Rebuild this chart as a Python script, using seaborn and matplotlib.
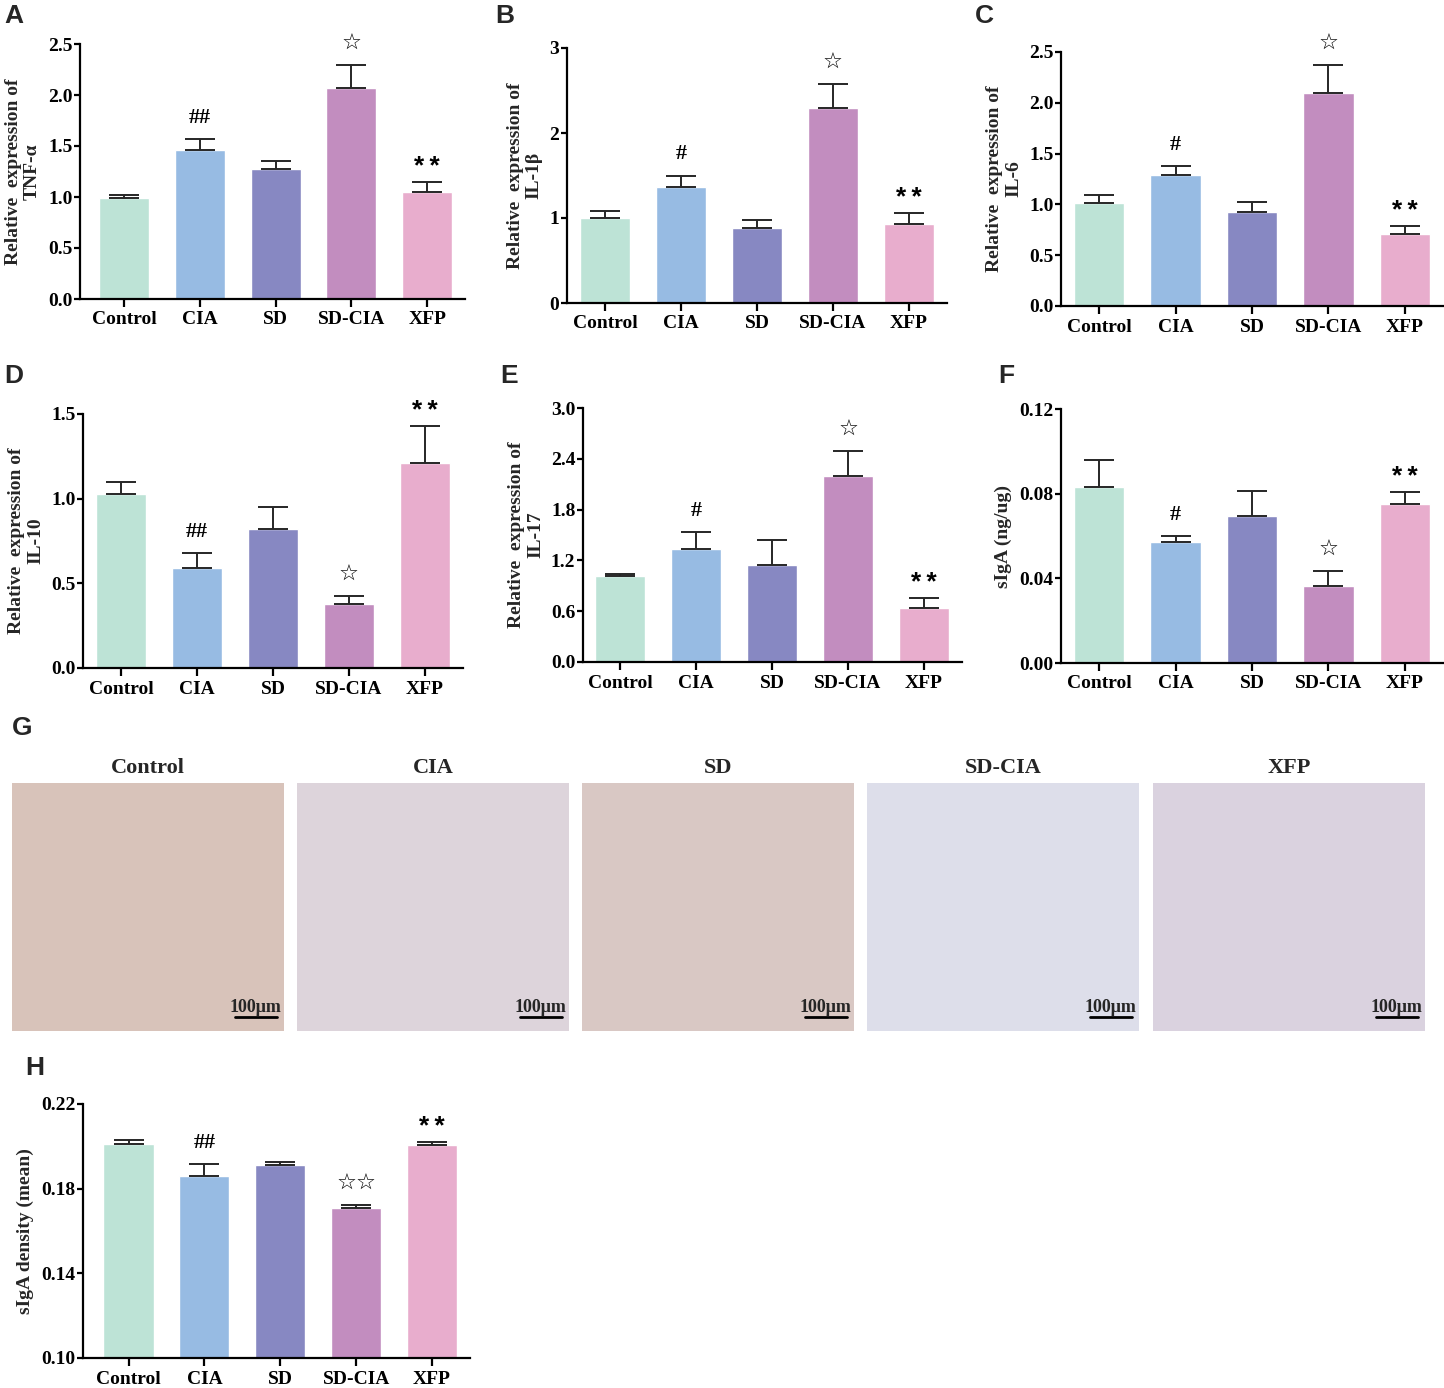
import matplotlib
matplotlib.use("Agg")
import matplotlib.pyplot as plt
import seaborn as sns
import pandas as pd
import numpy as np

# groups and colours shared by every bar panel
groups = ["Control", "CIA", "SD", "SD-CIA", "XFP"]
bar_colors = ["#BDE3D6", "#97BBE3", "#8788C2", "#C28DBF", "#E8ADCD"]

# A  TNF-a
tnf_mean = [0.99, 1.46, 1.27, 2.07, 1.05]
tnf_err = [0.03, 0.11, 0.08, 0.22, 0.10]
tnf_marks = ["", "##", "", "☆", "**"]

# B  IL-1b
il1b_mean = [1.00, 1.36, 0.88, 2.29, 0.93]
il1b_err = [0.08, 0.14, 0.10, 0.29, 0.13]
il1b_marks = ["", "#", "", "☆", "**"]

# C  IL-6
il6_mean = [1.01, 1.29, 0.93, 2.10, 0.71]
il6_err = [0.08, 0.09, 0.09, 0.27, 0.08]
il6_marks = ["", "#", "", "☆", "**"]

# D  IL-10
il10_mean = [1.03, 0.59, 0.82, 0.38, 1.21]
il10_err = [0.07, 0.09, 0.13, 0.045, 0.22]
il10_marks = ["", "##", "", "☆", "**"]

# E  IL-17
il17_mean = [1.01, 1.34, 1.14, 2.20, 0.64]
il17_err = [0.03, 0.20, 0.30, 0.29, 0.12]
il17_marks = ["", "#", "", "☆", "**"]

# F  sIgA ELISA
siga_mean = [0.0831, 0.0572, 0.0695, 0.0364, 0.0752]
siga_err = [0.0129, 0.0026, 0.0117, 0.0070, 0.0058]
siga_marks = ["", "#", "", "☆", "**"]

# H  sIgA IHC density
dens_mean = [0.2011, 0.1860, 0.1910, 0.1710, 0.2006]
dens_err = [0.0020, 0.0056, 0.0017, 0.0013, 0.0016]
dens_marks = ["", "##", "", "☆☆", "**"]

# G  micrograph tiles (flat tones standing in for the stained sections)
tile_names = ["Control", "CIA", "SD", "SD-CIA", "XFP"]
tile_colors = ["#D8C3BA", "#DDD4DB", "#D9C8C4", "#DDDEEA", "#DAD2DF"]

sns.set_theme(style="ticks")
plt.rcParams["font.family"] = ["Liberation Serif", "DejaVu Sans"]
plt.rcParams["font.weight"] = "bold"
plt.rcParams["axes.labelweight"] = "bold"

W, H = 1444, 1388
fig = plt.figure(figsize=(W / 100, H / 100), dpi=100)


def px_axes(l, t, r, b):
    return fig.add_axes([l / W, 1 - b / H, (r - l) / W, (b - t) / H])


def bar_panel(rect, xpad, mean, err, marks, ylim, yticks, fmt, ylabel):
    ax = px_axes(*rect)
    df = pd.DataFrame({"group": groups, "value": mean})
    sns.barplot(data=df, x="group", y="value", hue="group", palette=bar_colors,
                legend=False, width=0.66, saturation=1, ax=ax)
    xs = np.arange(len(groups))
    ax.errorbar(xs, mean, yerr=[np.zeros(len(err)), err], fmt="none",
                ecolor="#262626", elinewidth=1.4, capsize=11, capthick=1.4, zorder=3)
    for x, m, e, mk in zip(xs, mean, err, marks):
        if not mk:
            continue
        if mk.startswith("*"):
            ax.annotate("*\u2009*", (x, m + e), xytext=(0, 2), textcoords="offset points",
                        ha="center", va="bottom", fontsize=19, fontweight="bold",
                        family=["Liberation Sans", "DejaVu Sans"], color="black")
        elif mk.startswith("☆"):
            ax.annotate(mk, (x, m + e), xytext=(0, 8), textcoords="offset points",
                        ha="center", va="bottom", fontsize=16, fontweight="bold",
                        family=["DejaVu Sans"], color="black")
        else:
            ax.annotate(mk, (x, m + e), xytext=(0, 8), textcoords="offset points",
                        ha="center", va="bottom", fontsize=16, fontweight="bold",
                        color="black")
    ax.set_xlim(-xpad, len(groups) - 0.5)
    ax.set_ylim(*ylim)
    ax.set_yticks(yticks)
    ax.set_yticklabels([fmt.format(v) for v in yticks])
    ax.set_xlabel("")
    ax.set_ylabel(ylabel, fontsize=14, fontweight="bold", labelpad=5, linespacing=1.15)
    sns.despine(ax=ax)
    for s in ["left", "bottom"]:
        ax.spines[s].set_linewidth(1.6)
        ax.spines[s].set_color("black")
    ax.tick_params(axis="x", length=6, width=1.6, pad=3, labelsize=14, colors="black")
    ax.tick_params(axis="y", length=4.5, width=1.6, pad=1, labelsize=14, colors="black")
    for lab in ax.get_xticklabels() + ax.get_yticklabels():
        lab.set_fontweight("bold")
    return ax


bar_panel((80, 44, 465, 299), 0.58, tnf_mean, tnf_err, tnf_marks, (0, 2.5),
          [0, 0.5, 1.0, 1.5, 2.0, 2.5], "{:.1f}", "Relative  expression of\nTNF-α")
bar_panel((567, 48, 947, 303), 0.5, il1b_mean, il1b_err, il1b_marks, (0, 3),
          [0, 1, 2, 3], "{:.0f}", "Relative  expression of\nIL-1β")
bar_panel((1061, 52, 1443, 306), 0.5, il6_mean, il6_err, il6_marks, (0, 2.5),
          [0, 0.5, 1.0, 1.5, 2.0, 2.5], "{:.1f}", "Relative  expression of\nIL-6")
bar_panel((83, 414, 463, 668), 0.5, il10_mean, il10_err, il10_marks, (0, 1.5),
          [0, 0.5, 1.0, 1.5], "{:.1f}", "Relative  expression of\nIL-10")
bar_panel((583, 408, 962, 662), 0.49, il17_mean, il17_err, il17_marks, (0, 3.0),
          [0, 0.6, 1.2, 1.8, 2.4, 3.0], "{:.1f}", "Relative  expression of\nIL-17")
bar_panel((1061, 409, 1443, 663), 0.5, siga_mean, siga_err, siga_marks, (0, 0.12),
          [0, 0.04, 0.08, 0.12], "{:.2f}", "sIgA (ng/ug)")
bar_panel((83, 1104, 470, 1358), 0.6, dens_mean, dens_err, dens_marks, (0.10, 0.22),
          [0.10, 0.14, 0.18, 0.22], "{:.2f}", "sIgA density (mean)")

# G: image tiles with titles and scale bars
tile_lefts = [12, 297, 582, 867, 1153]
for left, name, col in zip(tile_lefts, tile_names, tile_colors):
    ax = px_axes(left, 783, left + 272, 1031)
    ax.set_facecolor(col)
    ax.set_xticks([])
    ax.set_yticks([])
    for s in ax.spines.values():
        s.set_visible(False)
    ax.set_title(name, fontsize=16, fontweight="bold", pad=7)
    ax.plot([0.82, 0.975], [0.055, 0.055], transform=ax.transAxes, color="black", lw=2)
    ax.text(0.895, 0.062, "100μm", transform=ax.transAxes, ha="center", va="bottom",
            fontsize=13, fontweight="bold")

# panel letters
letters = [("A", 4, 4), ("B", 495, 4), ("C", 975, 4), ("D", 4, 364), ("E", 500, 364),
           ("F", 998, 364), ("G", 12, 716), ("H", 25, 1056)]
for lt, lx, ly in letters:
    fig.text(lx / W, 1 - ly / H, lt, ha="left", va="top", fontsize=19,
             fontweight="bold", family=["Liberation Sans", "DejaVu Sans"])

fig.savefig("out.png", dpi=100, facecolor="white")
